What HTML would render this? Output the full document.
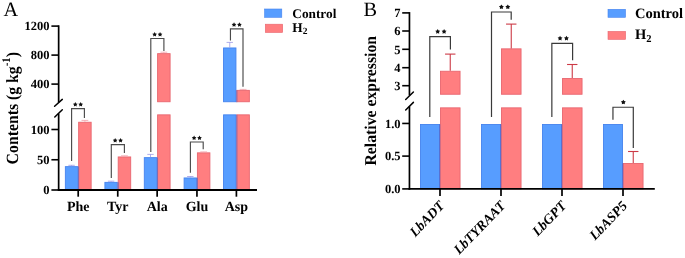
<!DOCTYPE html>
<html><head><meta charset="utf-8"><style>
html,body{margin:0;padding:0;background:#fff;}
body{width:685px;height:258px;overflow:hidden;}
svg{display:block;font-family:"Liberation Serif",serif;will-change:transform;text-rendering:geometricPrecision;}
</style></head><body>
<svg width="685" height="258" viewBox="0 0 685 258">
<rect width="685" height="258" fill="#fff"/>
<text x="3.60" y="15.50" font-size="20.3" text-anchor="start" font-weight="normal" font-style="normal" >A</text>
<rect x="65.35" y="166.65" width="12.40" height="23.35" fill="#579DFF" stroke="#4583ee" stroke-width="0.9"/>
<rect x="78.65" y="122.25" width="12.50" height="67.75" fill="#FF7E80" stroke="#e8666f" stroke-width="0.9"/>
<line x1="78.60" y1="166.50" x2="78.60" y2="190.00" stroke="#7a6cb4" stroke-width="1.0" stroke-linecap="butt"/>
<line x1="71.55" y1="165.30" x2="71.55" y2="166.20" stroke="#9a98e6" stroke-width="0.8" stroke-linecap="butt"/>
<line x1="68.35" y1="165.30" x2="74.75" y2="165.30" stroke="#9a98e6" stroke-width="0.8" stroke-linecap="butt"/>
<line x1="84.90" y1="120.40" x2="84.90" y2="121.80" stroke="#f2a0a8" stroke-width="0.8" stroke-linecap="butt"/>
<line x1="81.50" y1="120.40" x2="88.30" y2="120.40" stroke="#f2a0a8" stroke-width="0.8" stroke-linecap="butt"/>
<rect x="104.90" y="182.35" width="12.40" height="7.65" fill="#579DFF" stroke="#4583ee" stroke-width="0.9"/>
<rect x="118.20" y="156.95" width="12.50" height="33.05" fill="#FF7E80" stroke="#e8666f" stroke-width="0.9"/>
<line x1="118.15" y1="182.20" x2="118.15" y2="190.00" stroke="#7a6cb4" stroke-width="1.0" stroke-linecap="butt"/>
<line x1="111.10" y1="181.20" x2="111.10" y2="181.90" stroke="#9a98e6" stroke-width="0.8" stroke-linecap="butt"/>
<line x1="107.90" y1="181.20" x2="114.30" y2="181.20" stroke="#9a98e6" stroke-width="0.8" stroke-linecap="butt"/>
<line x1="124.45" y1="155.80" x2="124.45" y2="156.50" stroke="#f2a0a8" stroke-width="0.8" stroke-linecap="butt"/>
<line x1="121.05" y1="155.80" x2="127.85" y2="155.80" stroke="#f2a0a8" stroke-width="0.8" stroke-linecap="butt"/>
<rect x="144.30" y="157.65" width="12.40" height="32.35" fill="#579DFF" stroke="#4583ee" stroke-width="0.9"/>
<rect x="157.60" y="53.65" width="12.50" height="48.10" fill="#FF7E80" stroke="#e8666f" stroke-width="0.9"/>
<rect x="157.60" y="114.85" width="12.50" height="75.15" fill="#FF7E80" stroke="#e8666f" stroke-width="0.9"/>
<line x1="157.55" y1="157.50" x2="157.55" y2="190.00" stroke="#7a6cb4" stroke-width="1.0" stroke-linecap="butt"/>
<line x1="150.50" y1="154.40" x2="150.50" y2="157.20" stroke="#9a98e6" stroke-width="0.8" stroke-linecap="butt"/>
<line x1="147.30" y1="154.40" x2="153.70" y2="154.40" stroke="#9a98e6" stroke-width="0.8" stroke-linecap="butt"/>
<line x1="163.85" y1="52.20" x2="163.85" y2="53.20" stroke="#f2a0a8" stroke-width="0.8" stroke-linecap="butt"/>
<line x1="160.45" y1="52.20" x2="167.25" y2="52.20" stroke="#f2a0a8" stroke-width="0.8" stroke-linecap="butt"/>
<rect x="184.10" y="177.95" width="12.40" height="12.05" fill="#579DFF" stroke="#4583ee" stroke-width="0.9"/>
<rect x="197.40" y="152.85" width="12.50" height="37.15" fill="#FF7E80" stroke="#e8666f" stroke-width="0.9"/>
<line x1="197.35" y1="177.80" x2="197.35" y2="190.00" stroke="#7a6cb4" stroke-width="1.0" stroke-linecap="butt"/>
<line x1="190.30" y1="176.50" x2="190.30" y2="177.50" stroke="#9a98e6" stroke-width="0.8" stroke-linecap="butt"/>
<line x1="187.10" y1="176.50" x2="193.50" y2="176.50" stroke="#9a98e6" stroke-width="0.8" stroke-linecap="butt"/>
<line x1="203.65" y1="151.90" x2="203.65" y2="152.40" stroke="#f2a0a8" stroke-width="0.8" stroke-linecap="butt"/>
<line x1="200.25" y1="151.90" x2="207.05" y2="151.90" stroke="#f2a0a8" stroke-width="0.8" stroke-linecap="butt"/>
<rect x="223.55" y="47.95" width="12.40" height="53.80" fill="#579DFF" stroke="#4583ee" stroke-width="0.9"/>
<rect x="223.55" y="114.85" width="12.40" height="75.15" fill="#579DFF" stroke="#4583ee" stroke-width="0.9"/>
<rect x="236.85" y="90.35" width="12.50" height="11.40" fill="#FF7E80" stroke="#e8666f" stroke-width="0.9"/>
<rect x="236.85" y="114.85" width="12.50" height="75.15" fill="#FF7E80" stroke="#e8666f" stroke-width="0.9"/>
<line x1="236.80" y1="90.20" x2="236.80" y2="102.20" stroke="#7a6cb4" stroke-width="1.0" stroke-linecap="butt"/>
<line x1="236.80" y1="114.70" x2="236.80" y2="190.00" stroke="#7a6cb4" stroke-width="1.0" stroke-linecap="butt"/>
<line x1="229.75" y1="42.40" x2="229.75" y2="47.50" stroke="#9a98e6" stroke-width="0.8" stroke-linecap="butt"/>
<line x1="226.55" y1="42.40" x2="232.95" y2="42.40" stroke="#9a98e6" stroke-width="0.8" stroke-linecap="butt"/>
<line x1="243.10" y1="89.40" x2="243.10" y2="89.90" stroke="#f2a0a8" stroke-width="0.8" stroke-linecap="butt"/>
<line x1="239.70" y1="89.40" x2="246.50" y2="89.40" stroke="#f2a0a8" stroke-width="0.8" stroke-linecap="butt"/>
<line x1="58.65" y1="25.30" x2="58.65" y2="102.50" stroke="#000" stroke-width="1.7" stroke-linecap="butt"/>
<line x1="58.65" y1="113.50" x2="58.65" y2="190.85" stroke="#000" stroke-width="1.7" stroke-linecap="butt"/>
<line x1="54.60" y1="106.30" x2="62.30" y2="99.40" stroke="#000" stroke-width="1.5" stroke-linecap="round"/>
<line x1="54.80" y1="117.00" x2="62.30" y2="109.80" stroke="#000" stroke-width="1.5" stroke-linecap="round"/>
<line x1="51.40" y1="26.10" x2="58.65" y2="26.10" stroke="#000" stroke-width="1.6" stroke-linecap="butt"/>
<text x="49.50" y="30.40" font-size="12.5" text-anchor="end" font-weight="bold" font-style="normal" >1200</text>
<line x1="51.40" y1="55.10" x2="58.65" y2="55.10" stroke="#000" stroke-width="1.6" stroke-linecap="butt"/>
<text x="49.50" y="59.40" font-size="12.5" text-anchor="end" font-weight="bold" font-style="normal" >800</text>
<line x1="51.40" y1="84.10" x2="58.65" y2="84.10" stroke="#000" stroke-width="1.6" stroke-linecap="butt"/>
<text x="49.50" y="88.40" font-size="12.5" text-anchor="end" font-weight="bold" font-style="normal" >400</text>
<line x1="51.40" y1="129.50" x2="58.65" y2="129.50" stroke="#000" stroke-width="1.6" stroke-linecap="butt"/>
<text x="49.50" y="133.80" font-size="12.5" text-anchor="end" font-weight="bold" font-style="normal" >100</text>
<line x1="51.40" y1="159.75" x2="58.65" y2="159.75" stroke="#000" stroke-width="1.6" stroke-linecap="butt"/>
<text x="49.50" y="164.05" font-size="12.5" text-anchor="end" font-weight="bold" font-style="normal" >50</text>
<line x1="51.40" y1="190.00" x2="58.65" y2="190.00" stroke="#000" stroke-width="1.6" stroke-linecap="butt"/>
<text x="49.50" y="194.30" font-size="12.5" text-anchor="end" font-weight="bold" font-style="normal" >0</text>
<line x1="57.80" y1="190.00" x2="257.00" y2="190.00" stroke="#000" stroke-width="1.8" stroke-linecap="butt"/>
<line x1="78.20" y1="190.00" x2="78.20" y2="196.70" stroke="#000" stroke-width="1.7" stroke-linecap="butt"/>
<text x="78.20" y="211.00" font-size="14" text-anchor="middle" font-weight="bold" font-style="normal" >Phe</text>
<line x1="117.75" y1="190.00" x2="117.75" y2="196.70" stroke="#000" stroke-width="1.7" stroke-linecap="butt"/>
<text x="117.75" y="211.00" font-size="14" text-anchor="middle" font-weight="bold" font-style="normal" >Tyr</text>
<line x1="157.15" y1="190.00" x2="157.15" y2="196.70" stroke="#000" stroke-width="1.7" stroke-linecap="butt"/>
<text x="157.15" y="211.00" font-size="14" text-anchor="middle" font-weight="bold" font-style="normal" >Ala</text>
<line x1="196.95" y1="190.00" x2="196.95" y2="196.70" stroke="#000" stroke-width="1.7" stroke-linecap="butt"/>
<text x="196.95" y="211.00" font-size="14" text-anchor="middle" font-weight="bold" font-style="normal" >Glu</text>
<line x1="236.40" y1="190.00" x2="236.40" y2="196.70" stroke="#000" stroke-width="1.7" stroke-linecap="butt"/>
<text x="236.40" y="211.00" font-size="14" text-anchor="middle" font-weight="bold" font-style="normal" >Asp</text>
<polyline points="71.60,161.00 71.60,108.55 84.40,108.55 84.40,118.00" fill="none" stroke="#4a4a4a" stroke-width="1.15"/>
<polygon points="75.30,102.10 76.08,103.44 77.60,103.77 76.56,104.93 76.72,106.47 75.30,105.85 73.88,106.47 74.03,104.93 73.00,103.77 74.52,103.44" fill="#111"/>
<polygon points="80.70,102.10 81.48,103.44 83.00,103.77 81.97,104.93 82.12,106.47 80.70,105.85 79.28,106.47 79.44,104.93 78.40,103.77 79.92,103.44" fill="#111"/>
<polyline points="111.30,178.00 111.30,144.55 124.40,144.55 124.40,153.00" fill="none" stroke="#4a4a4a" stroke-width="1.15"/>
<polygon points="115.15,138.10 115.93,139.44 117.45,139.77 116.41,140.93 116.57,142.48 115.15,141.85 113.73,142.48 113.88,140.93 112.85,139.77 114.37,139.44" fill="#111"/>
<polygon points="120.55,138.10 121.33,139.44 122.85,139.77 121.81,140.93 121.97,142.48 120.55,141.85 119.13,142.48 119.28,140.93 118.25,139.77 119.77,139.44" fill="#111"/>
<polyline points="150.80,151.90 150.80,38.50 163.90,38.50 163.90,51.00" fill="none" stroke="#4a4a4a" stroke-width="1.15"/>
<polygon points="154.65,32.05 155.43,33.39 156.95,33.72 155.92,34.88 156.07,36.42 154.65,35.80 153.23,36.42 153.39,34.88 152.35,33.72 153.87,33.39" fill="#111"/>
<polygon points="160.05,32.05 160.83,33.39 162.35,33.72 161.31,34.88 161.47,36.42 160.05,35.80 158.63,36.42 158.79,34.88 157.75,33.72 159.27,33.39" fill="#111"/>
<polyline points="190.40,172.70 190.40,142.00 203.20,142.00 203.20,149.30" fill="none" stroke="#4a4a4a" stroke-width="1.15"/>
<polygon points="194.10,135.55 194.88,136.89 196.40,137.22 195.37,138.38 195.52,139.93 194.10,139.30 192.68,139.93 192.84,138.38 191.80,137.22 193.32,136.89" fill="#111"/>
<polygon points="199.50,135.55 200.28,136.89 201.80,137.22 200.76,138.38 200.92,139.93 199.50,139.30 198.08,139.93 198.24,138.38 197.20,137.22 198.72,136.89" fill="#111"/>
<polyline points="230.45,40.40 230.45,28.80 243.00,28.80 243.00,86.80" fill="none" stroke="#4a4a4a" stroke-width="1.15"/>
<polygon points="234.03,22.35 234.81,23.69 236.33,24.02 235.29,25.18 235.45,26.73 234.03,26.10 232.60,26.73 232.76,25.18 231.72,24.02 233.24,23.69" fill="#111"/>
<polygon points="239.42,22.35 240.21,23.69 241.72,24.02 240.69,25.18 240.85,26.73 239.42,26.10 238.00,26.73 238.16,25.18 237.12,24.02 238.64,23.69" fill="#111"/>
<rect x="264.60" y="9.00" width="17.20" height="8.30" fill="#579DFF" stroke="#4583ee" stroke-width="0.6"/>
<rect x="265.30" y="24.20" width="17.40" height="8.30" fill="#FF7E80" stroke="#e8666f" stroke-width="0.6"/>
<text x="292.30" y="17.70" font-size="13.3" text-anchor="start" font-weight="bold" font-style="normal" >Control</text>
<text x="292.30" y="32.20" font-size="13.3" text-anchor="start" font-weight="bold" font-style="normal" >H<tspan font-size="9.5" dy="2.2">2</tspan></text>
<text transform="translate(17.6,108.2) rotate(-90) scale(0.985,1.07)" font-size="16" font-weight="bold" text-anchor="middle">Contents (g kg<tspan font-size="11" dy="-7.2">-1</tspan><tspan dy="7.2">)</tspan></text>
<text x="363.50" y="16.20" font-size="20.3" text-anchor="start" font-weight="normal" font-style="normal" >B</text>
<rect x="420.45" y="124.45" width="19.10" height="64.45" fill="#579DFF" stroke="#4583ee" stroke-width="0.9"/>
<rect x="440.45" y="71.25" width="19.60" height="23.00" fill="#FF7E80" stroke="#e8666f" stroke-width="0.9"/>
<rect x="440.45" y="107.85" width="19.60" height="81.05" fill="#FF7E80" stroke="#e8666f" stroke-width="0.9"/>
<line x1="439.70" y1="124.30" x2="439.70" y2="188.90" stroke="#5a6ccc" stroke-width="1.0" stroke-linecap="butt"/>
<line x1="450.25" y1="54.10" x2="450.25" y2="70.80" stroke="#cc3a46" stroke-width="1.1" stroke-linecap="butt"/>
<line x1="445.05" y1="54.10" x2="455.45" y2="54.10" stroke="#cc3a46" stroke-width="1.1" stroke-linecap="butt"/>
<rect x="481.45" y="124.45" width="19.10" height="64.45" fill="#579DFF" stroke="#4583ee" stroke-width="0.9"/>
<rect x="501.45" y="48.85" width="19.60" height="45.40" fill="#FF7E80" stroke="#e8666f" stroke-width="0.9"/>
<rect x="501.45" y="107.85" width="19.60" height="81.05" fill="#FF7E80" stroke="#e8666f" stroke-width="0.9"/>
<line x1="500.70" y1="124.30" x2="500.70" y2="188.90" stroke="#5a6ccc" stroke-width="1.0" stroke-linecap="butt"/>
<line x1="511.25" y1="24.10" x2="511.25" y2="48.40" stroke="#cc3a46" stroke-width="1.1" stroke-linecap="butt"/>
<line x1="506.05" y1="24.10" x2="516.45" y2="24.10" stroke="#cc3a46" stroke-width="1.1" stroke-linecap="butt"/>
<rect x="542.45" y="124.45" width="19.10" height="64.45" fill="#579DFF" stroke="#4583ee" stroke-width="0.9"/>
<rect x="562.45" y="78.55" width="19.60" height="15.70" fill="#FF7E80" stroke="#e8666f" stroke-width="0.9"/>
<rect x="562.45" y="107.85" width="19.60" height="81.05" fill="#FF7E80" stroke="#e8666f" stroke-width="0.9"/>
<line x1="561.70" y1="124.30" x2="561.70" y2="188.90" stroke="#5a6ccc" stroke-width="1.0" stroke-linecap="butt"/>
<line x1="572.25" y1="64.50" x2="572.25" y2="78.10" stroke="#cc3a46" stroke-width="1.1" stroke-linecap="butt"/>
<line x1="567.05" y1="64.50" x2="577.45" y2="64.50" stroke="#cc3a46" stroke-width="1.1" stroke-linecap="butt"/>
<rect x="603.45" y="124.45" width="19.10" height="64.45" fill="#579DFF" stroke="#4583ee" stroke-width="0.9"/>
<rect x="623.45" y="163.45" width="19.60" height="25.45" fill="#FF7E80" stroke="#e8666f" stroke-width="0.9"/>
<line x1="622.70" y1="163.30" x2="622.70" y2="188.90" stroke="#5a6ccc" stroke-width="1.0" stroke-linecap="butt"/>
<line x1="633.25" y1="151.50" x2="633.25" y2="163.00" stroke="#cc3a46" stroke-width="1.1" stroke-linecap="butt"/>
<line x1="628.05" y1="151.50" x2="638.45" y2="151.50" stroke="#cc3a46" stroke-width="1.1" stroke-linecap="butt"/>
<line x1="409.45" y1="12.10" x2="409.45" y2="95.40" stroke="#000" stroke-width="1.7" stroke-linecap="butt"/>
<line x1="409.45" y1="106.50" x2="409.45" y2="189.75" stroke="#000" stroke-width="1.7" stroke-linecap="butt"/>
<line x1="405.70" y1="99.50" x2="413.40" y2="92.00" stroke="#000" stroke-width="1.5" stroke-linecap="round"/>
<line x1="405.70" y1="110.00" x2="413.40" y2="102.40" stroke="#000" stroke-width="1.5" stroke-linecap="round"/>
<line x1="402.20" y1="12.90" x2="409.45" y2="12.90" stroke="#000" stroke-width="1.6" stroke-linecap="butt"/>
<text x="400.50" y="17.20" font-size="12.5" text-anchor="end" font-weight="bold" font-style="normal" >7</text>
<line x1="402.20" y1="31.00" x2="409.45" y2="31.00" stroke="#000" stroke-width="1.6" stroke-linecap="butt"/>
<text x="400.50" y="35.30" font-size="12.5" text-anchor="end" font-weight="bold" font-style="normal" >6</text>
<line x1="402.20" y1="49.30" x2="409.45" y2="49.30" stroke="#000" stroke-width="1.6" stroke-linecap="butt"/>
<text x="400.50" y="53.60" font-size="12.5" text-anchor="end" font-weight="bold" font-style="normal" >5</text>
<line x1="402.20" y1="67.70" x2="409.45" y2="67.70" stroke="#000" stroke-width="1.6" stroke-linecap="butt"/>
<text x="400.50" y="72.00" font-size="12.5" text-anchor="end" font-weight="bold" font-style="normal" >4</text>
<line x1="402.20" y1="85.70" x2="409.45" y2="85.70" stroke="#000" stroke-width="1.6" stroke-linecap="butt"/>
<text x="400.50" y="90.00" font-size="12.5" text-anchor="end" font-weight="bold" font-style="normal" >3</text>
<line x1="402.20" y1="123.45" x2="409.45" y2="123.45" stroke="#000" stroke-width="1.6" stroke-linecap="butt"/>
<text x="400.50" y="127.75" font-size="12.5" text-anchor="end" font-weight="bold" font-style="normal" >1.0</text>
<line x1="402.20" y1="156.10" x2="409.45" y2="156.10" stroke="#000" stroke-width="1.6" stroke-linecap="butt"/>
<text x="400.50" y="160.40" font-size="12.5" text-anchor="end" font-weight="bold" font-style="normal" >0.5</text>
<line x1="402.20" y1="188.90" x2="409.45" y2="188.90" stroke="#000" stroke-width="1.6" stroke-linecap="butt"/>
<text x="400.50" y="193.20" font-size="12.5" text-anchor="end" font-weight="bold" font-style="normal" >0.0</text>
<line x1="408.60" y1="188.90" x2="654.80" y2="188.90" stroke="#000" stroke-width="1.7" stroke-linecap="butt"/>
<line x1="440.00" y1="188.90" x2="440.00" y2="195.90" stroke="#000" stroke-width="1.7" stroke-linecap="butt"/>
<text transform="translate(445.00,206.50) rotate(-46)" font-size="13.8" font-weight="bold" font-style="italic" text-anchor="end">LbADT</text>
<line x1="501.00" y1="188.90" x2="501.00" y2="195.90" stroke="#000" stroke-width="1.7" stroke-linecap="butt"/>
<text transform="translate(506.00,206.50) rotate(-46)" font-size="13.8" font-weight="bold" font-style="italic" text-anchor="end">LbTYRAAT</text>
<line x1="562.00" y1="188.90" x2="562.00" y2="195.90" stroke="#000" stroke-width="1.7" stroke-linecap="butt"/>
<text transform="translate(567.00,206.50) rotate(-46)" font-size="13.8" font-weight="bold" font-style="italic" text-anchor="end">LbGPT</text>
<line x1="623.00" y1="188.90" x2="623.00" y2="195.90" stroke="#000" stroke-width="1.7" stroke-linecap="butt"/>
<text transform="translate(628.00,206.50) rotate(-46)" font-size="13.8" font-weight="bold" font-style="italic" text-anchor="end">LbASP5</text>
<polyline points="429.80,117.10 429.80,36.60 450.40,36.60 450.40,49.60" fill="none" stroke="#3a3a3a" stroke-width="1.2"/>
<polygon points="437.70,29.04 438.53,30.47 440.15,30.82 439.05,32.05 439.21,33.70 437.70,33.03 436.19,33.70 436.35,32.05 435.25,30.82 436.87,30.47" fill="#111"/>
<polygon points="444.10,29.04 444.93,30.47 446.55,30.82 445.45,32.05 445.61,33.70 444.10,33.03 442.59,33.70 442.75,32.05 441.65,30.82 443.27,30.47" fill="#111"/>
<polyline points="491.50,117.10 491.50,12.00 511.20,12.00 511.20,19.80" fill="none" stroke="#3a3a3a" stroke-width="1.2"/>
<polygon points="501.40,4.44 502.23,5.87 503.85,6.22 502.75,7.45 502.91,9.10 501.40,8.43 499.89,9.10 500.05,7.45 498.95,6.22 500.57,5.87" fill="#111"/>
<polygon points="507.80,4.44 508.63,5.87 510.25,6.22 509.15,7.45 509.31,9.10 507.80,8.43 506.29,9.10 506.45,7.45 505.35,6.22 506.97,5.87" fill="#111"/>
<polyline points="551.85,117.10 551.85,43.40 572.60,43.40 572.60,60.20" fill="none" stroke="#3a3a3a" stroke-width="1.2"/>
<polygon points="560.05,35.84 560.88,37.27 562.50,37.62 561.40,38.85 561.56,40.50 560.05,39.83 558.54,40.50 558.70,38.85 557.60,37.62 559.22,37.27" fill="#111"/>
<polygon points="566.45,35.84 567.28,37.27 568.90,37.62 567.80,38.85 567.96,40.50 566.45,39.83 564.94,40.50 565.10,38.85 564.00,37.62 565.62,37.27" fill="#111"/>
<polyline points="612.95,119.80 612.95,107.25 633.30,107.25 633.30,148.10" fill="none" stroke="#3a3a3a" stroke-width="1.2"/>
<polygon points="623.35,99.69 624.18,101.12 625.80,101.47 624.70,102.70 624.86,104.35 623.35,103.68 621.84,104.35 622.00,102.70 620.90,101.47 622.52,101.12" fill="#111"/>
<rect x="608.00" y="9.30" width="17.50" height="8.00" fill="#579DFF" stroke="#4583ee" stroke-width="0.6"/>
<rect x="608.00" y="31.40" width="17.60" height="8.00" fill="#FF7E80" stroke="#e8666f" stroke-width="0.6"/>
<text x="635.00" y="17.80" font-size="14.5" text-anchor="start" font-weight="bold" font-style="normal" >Control</text>
<text x="635.00" y="39.40" font-size="14.5" text-anchor="start" font-weight="bold" font-style="normal" >H<tspan font-size="10.5" dy="2.6">2</tspan></text>
<text transform="translate(376.3,100.75) rotate(-90) scale(0.99,1.04)" font-size="15.9" font-weight="bold" text-anchor="middle">Relative expression</text>
</svg>
</body></html>
